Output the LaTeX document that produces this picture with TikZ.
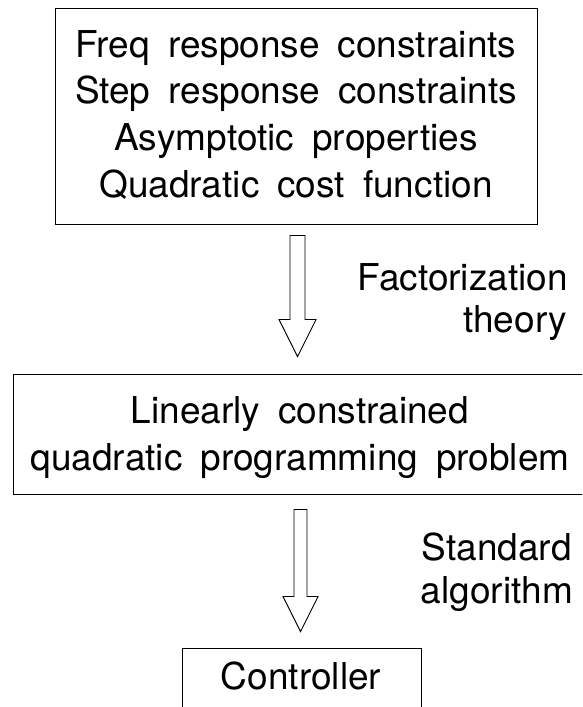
\documentclass[tikz,border=0pt]{standalone}
\usepackage{fontspec}
\setmainfont{TeX Gyre Heros}
\usetikzlibrary{calc}
\newcommand\blockarr[5]{%
  \draw[barrow] ($(#1)+(-#3,0)$) -- ($(#2)+(-#3,-#5)$) -- ($(#2)+(-#4,-#5)$) -- (#2)
    -- ($(#2)+(#4,-#5)$) -- ($(#2)+(#3,-#5)$) -- ($(#1)+(#3,0)$) -- cycle;}
\newcommand\widespacing{\spaceskip 18pt\relax}
\begin{document}
\begin{tikzpicture}[x=1pt,y=-1pt,
  box/.style={draw, line width=1pt, inner sep=0pt},
  txt/.style={anchor=base, inner sep=0pt, font=\fontsize{37}{44}\selectfont\widespacing},
  lbl/.style={anchor=base east, inner sep=0pt, font=\fontsize{37}{44}\selectfont},
  barrow/.style={draw, line width=0.9pt, line join=miter}]
\useasboundingbox (0,0) rectangle (582,707);
\begin{scope}
  \clip (0,0) rectangle (582,707);
  \node[box, minimum width=482pt, minimum height=216pt] (b1) at (296,116) {};
  \node[box, minimum width=580pt, minimum height=120pt] (b2) at (303,434) {};
  \node[box, minimum width=239pt, minimum height=100pt] (b3) at (301.5,698) {};
\end{scope}
% texts of box 1
\node[txt] (t1) at (296,57) {Freq response constraints};
\node[txt] (t2) at (296,103.7) {Step response constraints};
\node[txt] (t3) at (296,150.3) {Asymptotic properties};
\node[txt] (t4) at (296,197) {Quadratic cost function};
% texts of box 2
\node[txt] (t5) at (300,423) {Linearly constrained};
\node[txt] (t6) at (300,470) {quadratic programming problem};
% text of box 3
\node[txt] (t7) at (301,689) {Controller};
% labels
\node[lbl] (l1) at (568,290) {Factorization};
\node[lbl] (l2) at (567,332) {theory};
\node[lbl] (l3) at (572,560) {Standard};
\node[lbl] (l4) at (573,603) {algorithm};
% block arrows
\coordinate (a1) at ($(b1.south)+(1.5,11)$);
\coordinate (a1tip) at ($(a1 |- b2.north)+(0,-17)$);
\blockarr{a1}{a1tip}{7.5}{18.5}{37}
\coordinate (a2) at ($(b2.south -| b3.north)+(-1,15)$);
\coordinate (a2tip) at ($(a2 |- b3.north)+(0,-16)$);
\blockarr{a2}{a2tip}{6.5}{17.5}{35}
\end{tikzpicture}
\end{document}
